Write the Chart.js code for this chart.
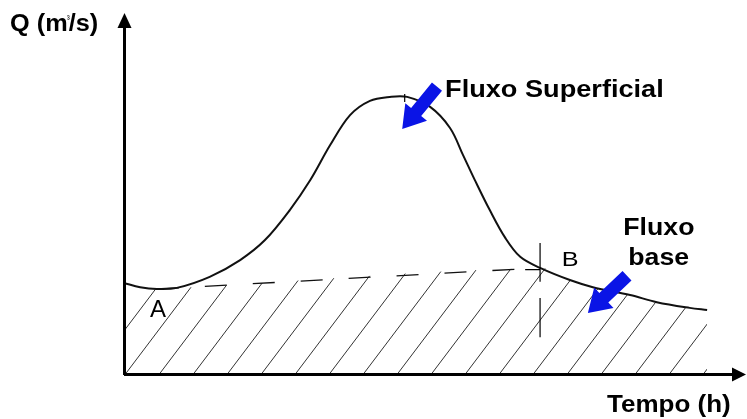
<!DOCTYPE html>
<html>
<head>
<meta charset="utf-8">
<script src="https://cdn.jsdelivr.net/npm/chart.js@4/dist/chart.umd.min.js"></script>
<style>
  html, body { margin: 0; padding: 0; background: #fff; }
  canvas { display: block; }
</style>
</head>
<body>
<canvas id="hydro" width="747" height="419"></canvas>
<script>
// ============================================================
// Hidrograma — escoamento superficial e escoamento de base
// ============================================================

// Curva do hidrograma (tempo em unidades arbitrárias, vazão idem)
var tempoCurva = [0, 2.6, 5.3, 8.5, 13.8, 18.7, 22.7, 26.7, 30.0, 33.2, 36.4, 39.6, 42.8, 45.6, 49.3, 52.5, 54.6, 56.5, 58.9, 61.4, 63.8, 67.0, 71.8, 75.5, 81.5, 85.8, 91.1, 93.9];
var vazaoCurva = [25.8, 24.6, 24.1, 24.4, 27.5, 32.2, 37.8, 46.2, 54.6, 64.4, 72.8, 76.8, 77.9, 77.9, 75.1, 69.2, 61.6, 54.6, 46.2, 38.4, 33.1, 30.0, 26.6, 24.6, 22.4, 20.4, 18.8, 18.2];

// Separação do escoamento de base (A -> B em linha reta, depois a própria curva)
var tempoBase = [0, 2.6, 5.3, 67.0, 71.8, 75.5, 81.5, 85.8, 91.1, 93.9];
var vazaoBase = [25.8, 24.6, 24.1, 30.0, 26.6, 24.6, 22.4, 20.4, 18.8, 18.2];

// Linha tracejada A-B
var tempoAB = [5.3, 67.0];
var vazaoAB = [24.1, 30.0];

var eixoX = 'Tempo (h)';
var eixoY = ['Q (m', '³', '/s)'];

function toPts(xs, ys) {
  return xs.map(function(x, i) { return { x: x, y: ys[i] }; });
}

// hachura diagonal
function makeHatch() {
  var w = 34, h = 45;
  var c = document.createElement('canvas');
  c.width = w; c.height = h;
  var g = c.getContext('2d');
  g.strokeStyle = '#333';
  g.lineWidth = 1;
  g.beginPath();
  g.moveTo(-w, h); g.lineTo(0, 0);
  g.moveTo(0, h); g.lineTo(w, 0);
  g.moveTo(w, h); g.lineTo(2 * w, 0);
  g.stroke();
  return g.createPattern(c, 'repeat');
}

function stretchText(ctx, str, x, y, font, sx) {
  ctx.save();
  ctx.translate(x, y);
  ctx.scale(sx, 1);
  ctx.font = font;
  ctx.fillStyle = '#000';
  ctx.textBaseline = 'alphabetic';
  ctx.fillText(str, 0, 0);
  var w = ctx.measureText(str).width * sx;
  ctx.restore();
  return w;
}

function blockArrow(ctx, tail, tip) {
  var dx = tip.x - tail.x, dy = tip.y - tail.y;
  var len = Math.sqrt(dx * dx + dy * dy);
  var ux = dx / len, uy = dy / len, nx = -uy, ny = ux;
  var headLen = 22, headW = 14, shaftW = 6.5;
  var bx = tip.x - ux * headLen, by = tip.y - uy * headLen;
  ctx.save();
  ctx.fillStyle = '#0a14e6';
  ctx.beginPath();
  ctx.moveTo(tail.x + nx * shaftW, tail.y + ny * shaftW);
  ctx.lineTo(bx + nx * shaftW, by + ny * shaftW);
  ctx.lineTo(bx + nx * headW, by + ny * headW);
  ctx.lineTo(tip.x, tip.y);
  ctx.lineTo(bx - nx * headW, by - ny * headW);
  ctx.lineTo(bx - nx * shaftW, by - ny * shaftW);
  ctx.lineTo(tail.x - nx * shaftW, tail.y - ny * shaftW);
  ctx.closePath();
  ctx.fill();
  ctx.restore();
}

var sketchPlugin = {
  id: 'sketch',
  beforeDraw: function(chart) {
    var ctx = chart.ctx;
    ctx.save();
    ctx.fillStyle = '#fff';
    ctx.fillRect(0, 0, chart.width, chart.height);
    ctx.restore();
  },
  afterDatasetsDraw: function(chart) {
    var ctx = chart.ctx, a = chart.chartArea;
    var sx = chart.scales.x, sy = chart.scales.y;
    function P(x, y) { return { x: sx.getPixelForValue(x), y: sy.getPixelForValue(y) }; }

    // eixos com setas
    ctx.save();
    ctx.strokeStyle = '#000';
    ctx.fillStyle = '#000';
    ctx.lineWidth = 3;
    ctx.beginPath();
    ctx.moveTo(a.left + 0.5, a.bottom);
    ctx.lineTo(a.left + 0.5, a.top + 8);
    ctx.moveTo(a.left, a.bottom - 0.5);
    ctx.lineTo(a.right - 10, a.bottom - 0.5);
    ctx.stroke();
    ctx.beginPath();
    ctx.moveTo(a.left + 0.5, a.top - 5);
    ctx.lineTo(a.left - 6.5, a.top + 10);
    ctx.lineTo(a.left + 7.5, a.top + 10);
    ctx.closePath();
    ctx.fill();
    ctx.beginPath();
    ctx.moveTo(a.right + 1, a.bottom - 0.5);
    ctx.lineTo(a.right - 13, a.bottom - 7.5);
    ctx.lineTo(a.right - 13, a.bottom + 6.5);
    ctx.closePath();
    ctx.fill();

    // marcas finas (pico e ponto B)
    ctx.lineWidth = 1.2;
    ctx.beginPath();
    var p1 = P(45.2, 78.7), p2 = P(45.2, 76.5);
    ctx.moveTo(p1.x, p1.y); ctx.lineTo(p2.x, p2.y);
    var b1 = P(67.0, 37.0), b2 = P(67.0, 26.1), b3 = P(67.0, 21.6), b4 = P(67.0, 10.6);
    ctx.moveTo(b1.x, b1.y); ctx.lineTo(b2.x, b2.y);
    ctx.moveTo(b3.x, b3.y); ctx.lineTo(b4.x, b4.y);
    var h1 = P(64.6, 29.5), h2 = P(67.0, 29.5);
    ctx.moveTo(h1.x, h1.y); ctx.lineTo(h2.x, h2.y);
    ctx.stroke();
    ctx.restore();

    // setas azuis
    blockArrow(ctx, P(50.4, 80.8), P(44.8, 68.9));
    blockArrow(ctx, P(81.0, 27.8), P(74.7, 17.4));

    // textos
    var bold = 'bold 23px "Liberation Sans", Arial, sans-serif';
    var t;
    t = P(51.7, 77.9); stretchText(ctx, 'Fluxo Superficial', t.x, t.y, bold, 1.18);
    t = P(80.4, 39.2); stretchText(ctx, 'Fluxo', t.x, t.y, bold, 1.16);
    t = P(81.2, 30.8); stretchText(ctx, 'base', t.x, t.y, bold, 1.16);
    t = P(70.5, 30.4); stretchText(ctx, 'B', t.x, t.y, '21px "Liberation Sans", Arial, sans-serif', 1.2);
    t = P(4.2, 16.2); stretchText(ctx, 'A', t.x, t.y, '24px "Liberation Sans", Arial, sans-serif', 1.0);
    var qx = 10;
    qx += stretchText(ctx, eixoY[0], qx, 31, bold, 1.1);
    qx += stretchText(ctx, eixoY[1], qx - 1, 22, '9px "Liberation Sans", Arial, sans-serif', 1.0) - 2;
    stretchText(ctx, eixoY[2], qx, 31, bold, 1.1);
    stretchText(ctx, eixoX, 607, 412, bold, 1.13);
  }
};

var chart = new Chart(document.getElementById('hydro'), {
  type: 'line',
  data: {
    datasets: [
      {
        label: 'curva',
        data: toPts(tempoCurva, vazaoCurva),
        borderColor: '#111',
        borderWidth: 2,
        pointRadius: 0,
        tension: 0.35,
        fill: false,
        order: 0
      },
      {
        label: 'AB',
        data: toPts(tempoAB, vazaoAB),
        borderColor: '#111',
        borderWidth: 1.3,
        borderDash: [22, 26],
        pointRadius: 0,
        tension: 0,
        fill: false,
        order: 1
      },
      {
        label: 'base',
        data: toPts(tempoBase, vazaoBase),
        borderWidth: 0,
        borderColor: 'rgba(0,0,0,0)',
        backgroundColor: makeHatch(),
        pointRadius: 0,
        tension: 0.35,
        fill: 'origin',
        order: 2
      }
    ]
  },
  options: {
    responsive: false,
    animation: false,
    devicePixelRatio: 1,
    layout: { padding: { left: 124, right: 2, top: 18, bottom: 44 } },
    plugins: { legend: { display: false }, tooltip: { enabled: false } },
    scales: {
      x: { type: 'linear', min: 0, max: 100, display: false },
      y: { type: 'linear', min: 0, max: 100, display: false }
    }
  },
  plugins: [sketchPlugin]
});
</script>
</body>
</html>
